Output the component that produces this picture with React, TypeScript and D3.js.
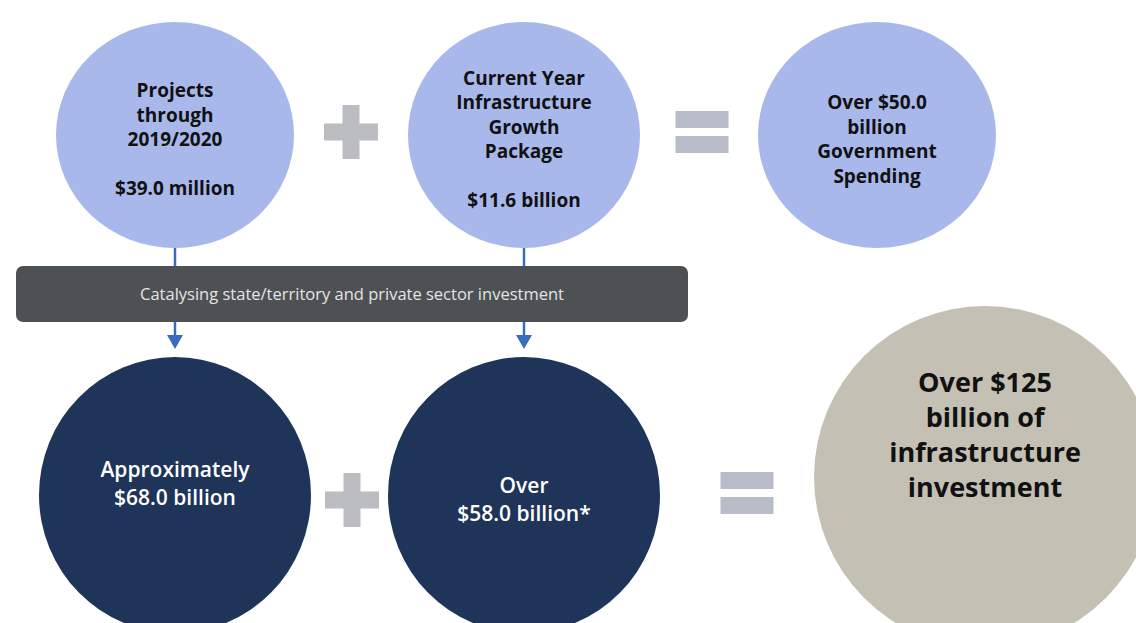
import React from "react";
import * as d3 from "d3";

// ---- Data ----
const topLabels: string[][] = [
  ["Projects", "through", "2019/2020", "", "$39.0 million"],
  ["Current Year", "Infrastructure", "Growth", "Package", "", "$11.6 billion"],
  ["Over $50.0", "billion", "Government", "Spending"],
];
const bottomLabels: string[][] = [
  ["Approximately", "$68.0 billion"],
  ["Over", "$58.0 billion*"],
];
const totalLabel: string[] = ["Over $125", "billion of", "infrastructure", "investment"];
const bannerText = "Catalysing state/territory and private sector investment";
const topOperators = ["+", "="];
const bottomOperators = ["+", "="];

// ---- Layout ----
const W = 1136;
const H = 623;
const colX = d3.scalePoint<number>().domain([0, 1, 2]).range([175, 879]);
const topCy = 135;
const topR = { rx: 119, ry: 113 };
const botCy = 493;
const botR = { rx: 136, ry: 138 };
const totalC = { cx: 985, cy: 477, r: 171 };
const bar = { x0: 16, x1: 688, y0: 266, y1: 322 };
const botTextMid = [484, 500];

const colors = {
  light: "#a9b8eb",
  dark: "#1f3459",
  beige: "#c4c0b4",
  bar: "#4e5154",
  barText: "#e4e4e4",
  op: "#bcbdc3",
  opEq: "#b9bcc9",
  blue: "#3b6cbc",
  darkText: "#111111",
};

const font = "'Open Sans', 'DejaVu Sans', sans-serif";

function Plus({ cx, cy }: { cx: number; cy: number }) {
  const s = 54, t = 17;
  return (
    <g fill={colors.op}>
      <rect x={cx - t / 2} y={cy - s / 2} width={t} height={s} />
      <rect x={cx - s / 2} y={cy - t / 2} width={s} height={t} />
    </g>
  );
}
function Equals({ cx, cy }: { cx: number; cy: number }) {
  const w = 53, h = 17, gap = 8;
  return (
    <g fill={colors.opEq}>
      <rect x={cx - w / 2} y={cy - gap / 2 - h} width={w} height={h} />
      <rect x={cx - w / 2} y={cy + gap / 2} width={w} height={h} />
    </g>
  );
}

export default function App() {
  const step = 24.5;
  const topOpX = [(colX(0)! + colX(1)!) / 2, (colX(1)! + colX(2)!) / 2 - 1];
  const botOpX = [352, 747];
  return (
    <svg width={W} height={H} style={{ position: "absolute", left: 0, top: 0, background: "#fff" }}>
      <rect width={W} height={H} fill="#fff" />
      {/* stems from top circles to bar */}
      {[0, 1].map((i) => (
        <line key={"s" + i} x1={colX(i)! - (i ? 3 : 0)} x2={colX(i)! - (i ? 3 : 0)} y1={230} y2={bar.y0}
          stroke={colors.blue} strokeWidth={2.5} />
      ))}
      {/* top circles */}
      {topLabels.map((lines, i) => {
        const cx = colX(i)! + (i === 1 ? -3 : i === 2 ? -2 : 0);
        const n = lines.length;
        return (
          <g key={"t" + i}>
            <ellipse cx={cx} cy={topCy} rx={topR.rx - (i === 1 ? 3 : 0)} ry={topR.ry} fill={colors.light} />
            {lines.map((l, j) => (
              <text key={j} x={cx} y={140 + (j - (n - 1) / 2) * step + 6} textAnchor="middle"
                fontFamily={font} fontWeight={700} fontSize={19} fill={colors.darkText}>{l}</text>
            ))}
          </g>
        );
      })}
      {topOperators.map((o, i) => o === "+" ? <Plus key={"to" + i} cx={topOpX[i]} cy={132} /> : <Equals key={"to" + i} cx={topOpX[i]} cy={132} />)}
      {/* banner */}
      <rect x={bar.x0} y={bar.y0} width={bar.x1 - bar.x0} height={bar.y1 - bar.y0} rx={7} fill={colors.bar} />
      <text x={(bar.x0 + bar.x1) / 2} y={(bar.y0 + bar.y1) / 2 + 6} textAnchor="middle" fontFamily={font}
        fontSize={16.5} fill={colors.barText}>{bannerText}</text>
      {/* arrows */}
      {[0, 1].map((i) => {
        const x = colX(i)! - (i ? 3 : 0);
        return (
          <g key={"a" + i}>
            <line x1={x} x2={x} y1={bar.y1} y2={338} stroke={colors.blue} strokeWidth={2.5} />
            <path d={`M${x - 8},335 L${x + 8},335 L${x},349 Z`} fill={colors.blue} />
          </g>
        );
      })}
      {/* bottom circles */}
      {bottomLabels.map((lines, i) => {
        const cx = colX(i)! - (i ? 3 : 0);
        return (
          <g key={"b" + i}>
            <ellipse cx={cx} cy={botCy + 2} rx={botR.rx} ry={botR.ry} fill={colors.dark} />
            {lines.map((l, j) => (
              <text key={j} x={cx} y={botTextMid[i] + (j - 0.5) * 28 + 7} textAnchor="middle"
                fontFamily={font} fontWeight={600} fontSize={21} fill="#ffffff">{l}</text>
            ))}
          </g>
        );
      })}
      {bottomOperators.map((o, i) => o === "+" ? <Plus key={"bo" + i} cx={botOpX[i]} cy={500} /> : <Equals key={"bo" + i} cx={botOpX[i]} cy={493} />)}
      {/* total circle */}
      <circle cx={totalC.cx} cy={totalC.cy} r={totalC.r} fill={colors.beige} />
      {totalLabel.map((l, j) => (
        <text key={j} x={totalC.cx} y={434 + (j - 1.5) * 35 + 10} textAnchor="middle" fontFamily={font}
          fontWeight={700} fontSize={27} fill={colors.darkText}>{l}</text>
      ))}
    </svg>
  );
}
